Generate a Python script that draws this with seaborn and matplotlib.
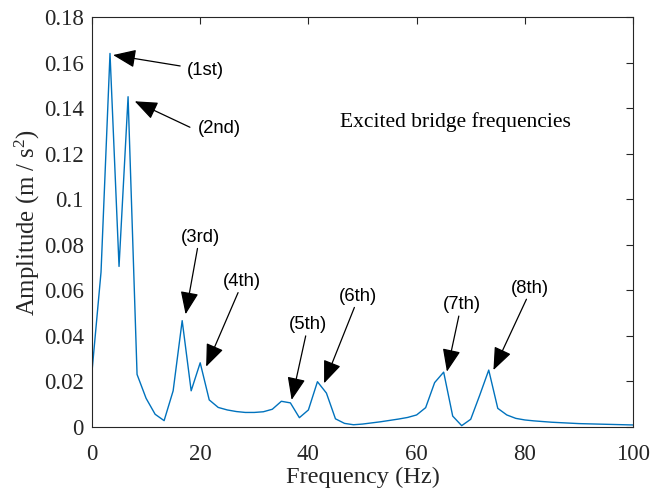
import matplotlib
matplotlib.use("Agg")
import matplotlib.pyplot as plt
import seaborn as sns
import pandas as pd
from matplotlib.ticker import FormatStrFormatter

freq = [0, 1.67, 3.33, 5, 6.67, 8.33, 10, 11.67, 13.33, 15,
        16.67, 18.33, 20, 21.67, 23.33, 25, 26.67, 28.33, 30, 31.67,
        33.33, 35, 36.67, 38.33, 40, 41.67, 43.33, 45, 46.67, 48.33,
        50, 51.67, 53.33, 55, 56.67, 58.33, 60, 61.67, 63.33, 65,
        66.67, 68.33, 70, 71.67, 73.33, 75, 76.67, 78.33, 80, 81.67,
        83.33, 85, 86.67, 88.33, 90, 91.67, 93.33, 95, 96.67, 98.33, 100]
amplitude = [0.0243, 0.068, 0.164, 0.0705, 0.145, 0.0231, 0.0126, 0.0056, 0.0028, 0.0159,
             0.0467, 0.0159, 0.0282, 0.0119, 0.0086, 0.0075, 0.0068, 0.0064, 0.0064, 0.0067,
             0.0078, 0.0113, 0.0106, 0.0041, 0.0075, 0.0199, 0.0149, 0.0036, 0.0016, 0.0010,
             0.0013, 0.0018, 0.0023, 0.0029, 0.0035, 0.0042, 0.0053, 0.0085, 0.0195, 0.0241,
             0.0048, 0.0006, 0.0034, 0.0140, 0.0250, 0.0082, 0.0053, 0.0038, 0.0031, 0.0027,
             0.0024, 0.0021, 0.0019, 0.0017, 0.0015, 0.0014, 0.0013, 0.0012, 0.0011, 0.0010, 0.0009]
labels = ["(1st)", "(2nd)", "(3rd)", "(4th)", "(5th)", "(6th)", "(7th)", "(8th)"]
x_ticks = [0, 20, 40, 60, 80, 100]
y_ticks = [0, 0.02, 0.04, 0.06, 0.08, 0.1, 0.12, 0.14, 0.16, 0.18]

sns.set_theme(style="white")
plt.rcParams["font.family"] = ["Liberation Serif", "DejaVu Serif"]
plt.rcParams["mathtext.fontset"] = "custom"
plt.rcParams["mathtext.rm"] = "Liberation Serif"
plt.rcParams["mathtext.it"] = "Liberation Serif:italic"

df = pd.DataFrame({"freq": freq, "amp": amplitude})

fig = plt.figure(figsize=(6.51, 4.91), dpi=100)
ax = fig.add_axes([0.1413, 0.1303, 0.8311, 0.8351])
sns.lineplot(data=df, x="freq", y="amp", ax=ax, color="#0072BD", linewidth=1.0)

ax.set_xlim(0, 100)
ax.set_ylim(0, 0.18)
ax.set_xticks(x_ticks)
ax.set_yticks(y_ticks)
ax.yaxis.set_major_formatter(FormatStrFormatter("%g"))
ax.tick_params(direction="in", length=5, width=0.8, colors="#262626",
               labelsize=16.5, top=True, right=True, labelcolor="#262626")
ax.tick_params(axis="x", pad=12.5)
ax.tick_params(axis="y", pad=6)
for s in ax.spines.values():
    s.set_color("#262626")
    s.set_linewidth(0.8)
ax.set_xlabel("Frequency (Hz)", fontsize=17.6, color="#262626", labelpad=1)
ax.set_ylabel(r"Amplitude (m / s$^{2}$)", fontsize=17.8, color="#262626", labelpad=1)

ax.text(67.1, 0.1339, "Excited bridge frequencies", fontsize=15.5,
        ha="center", va="center", color="black")

# (label, text position, arrow tail, arrow tip)
ann = [
    ((20.9, 0.1563), (16.3, 0.1585), (3.9, 0.1633)),
    ((23.5, 0.1310), (18.1, 0.1316), (7.9, 0.1430)),
    ((20.1, 0.0834), (19.5, 0.0784), (17.3, 0.0495)),
    ((27.7, 0.0641), (27.0, 0.0590), (21.1, 0.0265)),
    ((40.0, 0.0448), (39.5, 0.0400), (36.9, 0.0119)),
    ((49.2, 0.0572), (48.5, 0.0525), (42.9, 0.0192)),
    ((68.4, 0.0540), (67.8, 0.0487), (65.6, 0.0243)),
    ((81.0, 0.0609), (80.3, 0.0561), (74.2, 0.0250)),
]
for lab, (tpos, tail, tip) in zip(labels, ann):
    ax.text(tpos[0], tpos[1], lab, fontsize=13.3, family=["Liberation Sans"],
            ha="center", va="center", color="black")
    ax.annotate("", xy=tip, xytext=tail,
                arrowprops=dict(arrowstyle="-|>,head_length=1.0,head_width=0.4",
                                color="black", lw=0.9, mutation_scale=14,
                                shrinkA=0, shrinkB=0))

fig.savefig("out.png", dpi=100)
